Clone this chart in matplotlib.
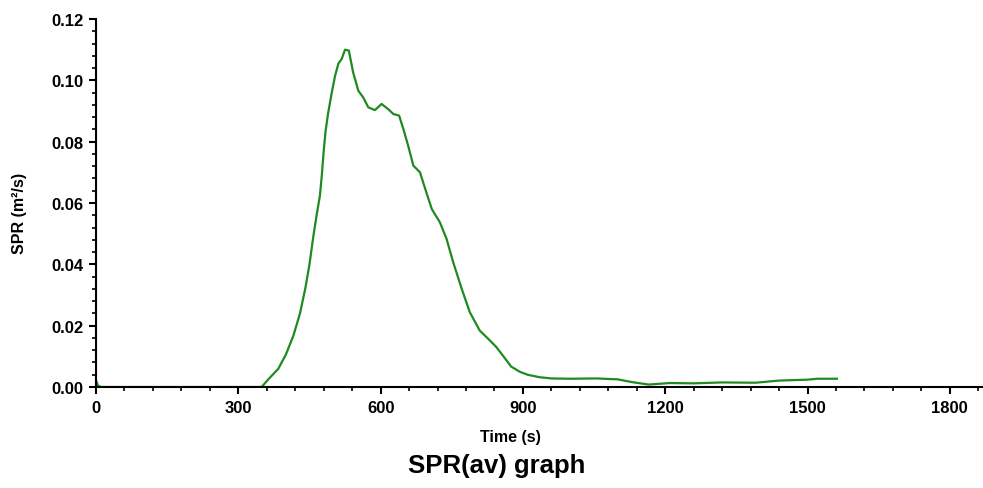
import matplotlib.pyplot as plt
from matplotlib.ticker import MultipleLocator, FormatStrFormatter

# SPR(av) curve
time_s = [0, 4, 10, 60, 150, 250, 340, 349, 365, 384, 400, 416, 430, 441, 450, 458,
          465, 472, 476, 480, 484, 489, 497, 504, 511, 518, 525, 533, 542, 553, 563,
          574, 588, 602, 616, 627, 639, 648, 658, 669, 683, 694, 708, 725, 739, 753,
          771, 788, 809, 825, 843, 860, 875, 893, 910, 935, 960, 1000, 1055, 1100,
          1130, 1165, 1210, 1260, 1320, 1390, 1440, 1500, 1520, 1562]
spr = [0.0022, 0.0005, 0.0, 0.0, 0.0, 0.0, 0.0, 0.0, 0.0028, 0.0059, 0.0105, 0.0167,
       0.0240, 0.0320, 0.0400, 0.0490, 0.0560, 0.0624, 0.0690, 0.0770, 0.0835,
       0.0890, 0.0960, 0.1015, 0.1055, 0.1070, 0.1100, 0.1097, 0.1026, 0.0966,
       0.0945, 0.0912, 0.0903, 0.0923, 0.0906, 0.0890, 0.0885, 0.0841, 0.0787,
       0.0722, 0.0700, 0.0646, 0.0580, 0.0537, 0.0483, 0.0407, 0.0320, 0.0244,
       0.0184, 0.0160, 0.0132, 0.0098, 0.0067, 0.0050, 0.0040, 0.0032, 0.0028,
       0.0027, 0.0028, 0.0025, 0.0016, 0.0008, 0.0013, 0.0012, 0.0015, 0.0014,
       0.0021, 0.0024, 0.0027, 0.0027]

x_ticks = [0, 300, 600, 900, 1200, 1500, 1800]

plt.rcParams['font.family'] = ['Liberation Sans', 'DejaVu Sans']
plt.rcParams['font.weight'] = 'bold'

fig = plt.figure(figsize=(9.83, 4.89), dpi=100)
ax = fig.add_axes([0.0977, 0.2065, 0.9023, 0.7526])

ax.plot(time_s, spr, color='#1f8a1f', linewidth=1.6)

ax.set_xlim(0, 1870)
ax.set_ylim(0, 0.12)
ax.set_xticks(x_ticks)
ax.xaxis.set_minor_locator(MultipleLocator(60))
ax.yaxis.set_major_locator(MultipleLocator(0.02))
ax.yaxis.set_minor_locator(MultipleLocator(0.004))
ax.yaxis.set_major_formatter(FormatStrFormatter('%.2f'))

ax.spines['top'].set_visible(False)
ax.spines['right'].set_visible(False)
ax.spines['left'].set_linewidth(1.5)
ax.spines['bottom'].set_linewidth(1.5)
ax.tick_params(which='major', length=5, width=1.5, labelsize=12, pad=4)
ax.tick_params(which='minor', length=3, width=1.2)
for lab in ax.get_xticklabels() + ax.get_yticklabels():
    lab.set_fontweight('bold')

ax.set_xlabel('Time (s)', fontsize=11.5, fontweight='bold')
ax.set_ylabel('SPR (m²/s)', fontsize=11.5, fontweight='bold')
ax.xaxis.set_label_coords(0.467, -0.115)
ax.yaxis.set_label_coords(-0.078, 0.475)

fig.text(0.505, 0.047, 'SPR(av) graph', ha='center', va='center',
         fontsize=18.5, fontweight='bold')

plt.savefig('out.png', dpi=100)
